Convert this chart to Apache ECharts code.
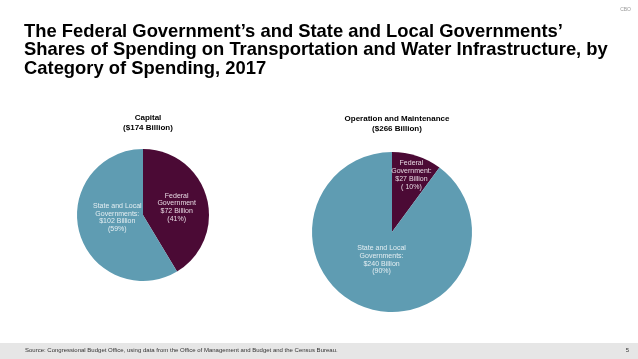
<!DOCTYPE html>
<html><head><meta charset="utf-8">
<script src="https://cdn.jsdelivr.net/npm/echarts@6/dist/echarts.min.js"></script>
<style>html,body{margin:0;padding:0;background:#fff}#c{width:638px;height:359px}</style>
</head><body><div id="c"></div>
<script>
const categories = ["Federal Government", "State and Local Governments"];
const capitalValues = [72, 102];
const omValues = [27, 240];
const capitalPct = ["41%", "59%"];
const omPct = ["10%", "90%"];
const colors = ["#4b0a35", "#5f9cb2"];

const chart = echarts.init(document.getElementById('c'));
const ff = '"Liberation Sans", Arial, sans-serif';
const nf = '"Liberation Sans Narrow", "Arial Narrow", "Liberation Sans", sans-serif';
const lbl = (txt, col, off) => ({show:true, position:'inside', formatter:txt, color:col, fontSize:7, lineHeight:7.8, fontFamily:nf, offset:off});
chart.setOption({
  animation:false,
  graphic:[
    {type:'rect', shape:{x:0,y:343,width:638,height:16}, style:{fill:'#e6e6e6'}, silent:true},
    {type:'text', left:24, top:23, style:{text:"The Federal Government\u2019s and State and Local Governments\u2019\nShares of Spending on Transportation and Water Infrastructure, by\nCategory of Spending, 2017", font:'bold 18.4px "Liberation Sans", Arial', lineHeight:18.2, fill:'#000'}},
    {type:'text', right:7, top:7, style:{text:'CBO', font:'5px "Liberation Sans"', fill:'#999'}},
    {type:'text', left:25, top:347, style:{text:'Source: Congressional Budget Office, using data from the Office of Management and Budget and the Census Bureau.', font:'6px "Liberation Sans"', fill:'#333'}},
    {type:'text', right:9, top:347, style:{text:'5', font:'6px "Liberation Sans"', fill:'#333'}}
  ],
  title:[
    {text:'Capital\n($174 Billion)', left:143, top:108, textAlign:'center', textStyle:{fontSize:8, fontWeight:'bold', fontFamily:ff, lineHeight:10, color:'#000'}},
    {text:'Operation and Maintenance\n($266 Billion)', left:392, top:109, textAlign:'center', textStyle:{fontSize:8, fontWeight:'bold', fontFamily:ff, lineHeight:10, color:'#000'}}
  ],
  series:[
    {type:'pie', center:[143,215], radius:[0,66], startAngle:90, clockwise:true, silent:true,
     labelLine:{show:false},
     data:[
      {name:categories[0], value:capitalValues[0], itemStyle:{color:colors[0]}, label:lbl('Federal\nGovernment\n$'+capitalValues[0]+' Billion\n('+capitalPct[0]+')', '#e6d8e2', [-1,2])},
      {name:categories[1], value:capitalValues[1], itemStyle:{color:colors[1]}, label:lbl('State and Local\nGovernments:\n$'+capitalValues[1]+' Billion\n('+capitalPct[1]+')', '#e4eef2', [9,-7])}
     ]},
    {type:'pie', center:[392,232], radius:[0,80], startAngle:90, clockwise:true, silent:true,
     labelLine:{show:false},
     data:[
      {name:categories[0], value:omValues[0], itemStyle:{color:colors[0]}, label:lbl('Federal\nGovernment:\n$'+omValues[0]+' Billion\n( '+omPct[0]+')', '#e6d8e2', [6,-16])},
      {name:categories[1], value:omValues[1], itemStyle:{color:colors[1]}, label:lbl('State and Local\nGovernments:\n$'+omValues[1]+' Billion\n('+omPct[1]+')', '#e4eef2', [3,-13])}
     ]}
  ]
});
</script></body></html>
